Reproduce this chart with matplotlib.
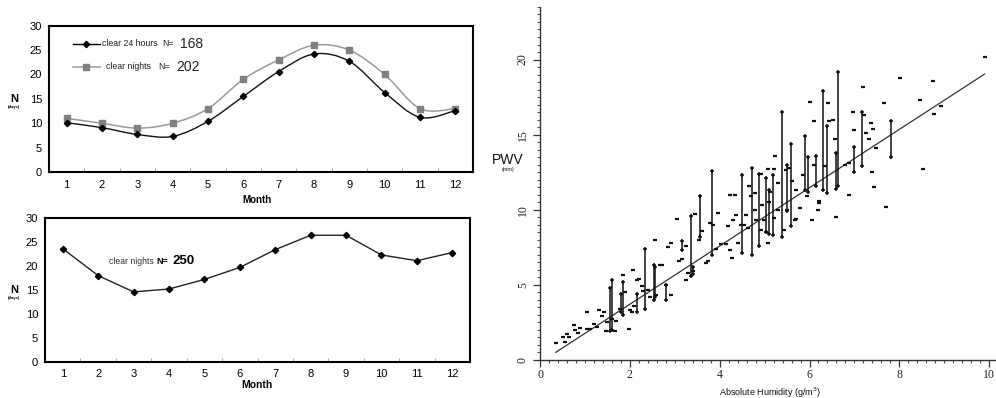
import numpy as np
import matplotlib
matplotlib.use("Agg")
import matplotlib.pyplot as plt
from matplotlib.path import Path
from matplotlib.patches import PathPatch
from matplotlib.ticker import MultipleLocator

# ---------------- data ----------------
months = list(range(1, 13))
clear24 = [10.1, 9.1, 7.7, 7.3, 10.4, 15.5, 20.6, 24.2, 22.7, 16.3, 11.2, 12.6]
clear_nights_a = [11.0, 10.0, 9.0, 10.0, 13.0, 19.0, 23.0, 26.0, 25.0, 20.0, 13.0, 13.0]
clear_nights_b = [23.6, 18.0, 14.6, 15.2, 17.2, 19.7, 23.4, 26.4, 26.4, 22.3, 21.1, 22.8]

# PWV vs absolute humidity: single measurements (x, y)
pts_x = [0.36, 0.52, 0.55, 0.60, 0.64, 0.75, 0.78, 0.85, 0.90, 1.05, 1.05, 1.11, 1.20, 1.26,
         1.32, 1.37, 1.42, 1.47, 1.48, 1.66, 1.70, 1.85, 1.98, 2.00, 2.07, 2.10, 2.15, 2.20,
         2.26, 2.41, 2.45, 2.55, 2.59, 2.67, 2.72, 2.85, 2.92, 2.92, 3.04, 3.10, 3.17, 3.26,
         3.30, 3.41, 3.44, 3.55, 3.60, 3.69, 3.74, 3.78, 3.85, 3.96, 4.04, 4.15, 4.19, 4.22,
         4.33, 4.22, 4.28, 4.41, 4.48, 4.30, 4.37, 4.59, 4.63, 4.65, 4.78, 4.81, 4.92, 4.99,
         5.04, 5.07, 5.22, 5.30, 5.44, 5.50, 5.67, 5.78, 6.06, 6.19, 6.21, 6.60, 7.70, 4.70,
         4.78, 4.92, 5.07, 5.24, 5.22, 5.48, 5.55, 5.69, 5.70, 5.94, 6.00, 6.09, 6.21, 6.41,
         6.44, 6.52, 6.56, 6.78, 6.89, 6.87, 6.96, 7.00, 7.18, 7.22, 7.26, 7.36, 7.33, 7.39,
         7.43, 7.42, 7.48, 7.65, 8.02, 8.46, 8.53, 8.74, 8.78, 8.93, 9.90, 4.95, 5.12, 5.30,
         5.10, 4.55, 5.85, 6.10, 6.35, 5.60, 3.92, 3.25, 2.80, 1.90, 1.60, 1.78, 2.30, 2.05]
pts_y = [1.10, 1.55, 1.20, 1.75, 1.55, 2.30, 2.00, 1.80, 2.10, 2.05, 3.20, 2.05, 2.40, 2.20,
         3.30, 2.90, 3.20, 1.90, 2.50, 1.90, 2.60, 5.65, 2.05, 3.35, 6.00, 3.60, 5.35, 5.40,
         4.90, 4.65, 4.20, 8.00, 4.30, 6.35, 6.30, 7.55, 7.80, 4.30, 9.40, 6.60, 6.70, 5.30,
         5.80, 5.90, 9.70, 8.00, 8.60, 6.45, 6.60, 9.10, 9.00, 9.80, 7.70, 7.70, 8.90, 11.00,
         11.00, 7.30, 6.80, 7.80, 9.00, 9.35, 9.65, 9.65, 8.80, 11.60, 10.00, 9.30, 8.65, 9.35,
         8.55, 7.80, 9.45, 10.00, 8.65, 10.00, 9.35, 10.10, 9.35, 10.00, 10.45, 9.55, 10.20, 10.90,
         11.10, 12.40, 12.70, 13.55, 12.70, 12.65, 12.80, 11.30, 9.40, 10.90, 17.20, 15.90, 10.60, 17.10,
         15.90, 16.00, 14.70, 13.00, 13.10, 10.95, 16.50, 15.30, 18.15, 16.30, 15.10, 15.80, 14.70, 12.50,
         11.50, 15.40, 14.10, 17.10, 18.80, 17.30, 12.70, 18.60, 16.40, 16.90, 20.20, 10.30, 11.20, 11.80,
         10.50, 9.00, 12.30, 13.00, 12.90, 11.90, 7.40, 7.60, 5.00, 4.50, 2.70, 3.40, 4.60, 3.20]

# repeated measurements on the same day: vertical ranges (x, ymin, ymax)
bar_x = [1.56, 1.60, 1.85, 1.80, 2.15, 2.34, 2.53, 2.57, 2.81, 3.15, 3.37, 3.40, 3.57, 3.83,
         4.50, 4.73, 4.87, 5.04, 5.10, 5.19, 5.39, 5.49, 5.59, 5.91, 5.96, 6.15, 6.29, 6.39,
         6.58, 6.63, 6.98, 7.16, 7.81]
bar_lo = [1.9, 2.0, 3.0, 3.2, 3.2, 3.4, 4.0, 4.2, 4.0, 7.3, 5.6, 5.7, 8.2, 7.0,
          7.1, 7.0, 7.6, 8.5, 8.4, 8.3, 8.2, 9.9, 8.9, 11.3, 11.2, 11.6, 11.3, 11.1,
          11.4, 11.6, 12.5, 12.9, 13.5]
bar_hi = [4.8, 5.3, 5.2, 4.4, 4.4, 7.4, 6.3, 6.2, 5.0, 7.9, 9.6, 6.2, 10.9, 12.6,
          12.3, 12.8, 12.4, 12.1, 11.3, 12.3, 16.5, 13.0, 14.4, 14.9, 13.5, 13.6, 17.9, 15.6,
          13.8, 19.2, 14.2, 16.5, 15.9]

fit_slope = 1.94
fit_intercept = -0.17
fit_xrange = [0.35, 9.9]

# ---------------- figure ----------------
plt.rcParams['font.family'] = ['Liberation Sans', 'DejaVu Sans']
fig = plt.figure(figsize=(9.96, 3.98), dpi=100)


def smooth_path(xs, ys):
    P = np.column_stack([xs, ys]).astype(float)
    verts = [P[0]]
    codes = [Path.MOVETO]
    n = len(P)
    for i in range(n - 1):
        p0 = P[i - 1] if i > 0 else P[i]
        p1 = P[i]
        p2 = P[i + 1]
        p3 = P[i + 2] if i + 2 < n else P[i + 1]
        c1 = p1 + (p2 - p0) / 6.0
        c2 = p2 - (p3 - p1) / 6.0
        verts += [c1, c2, p2]
        codes += [Path.CURVE4] * 3
    return Path(verts, codes)


def style_left(ax, xpad):
    ax.set_xlim(0.5, 12.5)
    ax.set_ylim(0, 30)
    ax.set_yticks(range(0, 31, 5))
    ax.set_xticks(months)
    ax.set_xticks([m + 0.5 for m in months[:-1]], minor=True)
    ax.tick_params(axis='x', which='major', length=0, pad=xpad, labelsize=8)
    ax.tick_params(axis='x', which='minor', length=3, direction='in', color='#999999')
    ax.tick_params(axis='y', length=0, pad=5, labelsize=8)
    for s in ax.spines.values():
        s.set_linewidth(1.5)
        s.set_color('black')


# top-left
ax1 = fig.add_axes([0.0492, 0.5678, 0.4257, 0.3676])
style_left(ax1, 6)
ax1.add_patch(PathPatch(smooth_path(months, clear_nights_a), fill=False,
                        edgecolor='#9a9a9a', lw=1.1))
ax1.add_patch(PathPatch(smooth_path(months, clear24), fill=False,
                        edgecolor='#111111', lw=1.0))
ax1.plot(months, clear_nights_a, ls='none', marker='s', ms=4, color='#808080')
ax1.plot(months, clear24, ls='none', marker='D', ms=3.2, color='black')

# legend (manual)
ax1.plot([0.057, 0.12], [0.875, 0.875], color='black', lw=1, transform=ax1.transAxes)
ax1.plot([0.088], [0.875], marker='D', ms=3.2, color='black', transform=ax1.transAxes)
ax1.plot([0.057, 0.12], [0.718, 0.718], color='#9a9a9a', lw=1.1, transform=ax1.transAxes)
ax1.plot([0.088], [0.718], marker='s', ms=4, color='#808080', transform=ax1.transAxes)
ax1.text(0.125, 0.875, 'clear 24 hours', fontsize=6.3, va='center', transform=ax1.transAxes, color='#222222')
ax1.text(0.268, 0.875, 'N=', fontsize=6.3, va='center', transform=ax1.transAxes, color='#222222')
ax1.text(0.309, 0.875, '168', fontsize=10, va='center', transform=ax1.transAxes, color='#222222')
ax1.text(0.134, 0.718, 'clear nights', fontsize=6.3, va='center', transform=ax1.transAxes, color='#222222')
ax1.text(0.258, 0.718, 'N=', fontsize=6.3, va='center', transform=ax1.transAxes, color='#222222')
ax1.text(0.300, 0.718, '202', fontsize=10, va='center', transform=ax1.transAxes, color='#222222')

# bottom-left
ax2 = fig.add_axes([0.0452, 0.0905, 0.4267, 0.3618])
style_left(ax2, 5)
ax2.plot(months, clear_nights_b, color='#222222', lw=1.0, marker='D', ms=3.2,
         markerfacecolor='black', markeredgecolor='black')
ax2.text(0.151, 0.70, 'clear nights', fontsize=6.2, va='center', transform=ax2.transAxes, color='#333333')
ax2.text(0.262, 0.70, 'N=', fontsize=6.5, va='center', fontweight='bold', transform=ax2.transAxes)
ax2.text(0.300, 0.70, '250', fontsize=9.5, va='center', fontweight='bold', transform=ax2.transAxes)

# y labels and x labels for the left panels
for ymain, ysub in [(0.751, 0.731), (0.271, 0.251)]:
    fig.text(0.014, ymain, 'N', fontsize=8, fontweight='bold', ha='center', va='center')
    fig.text(0.014, ysub, '(days)', fontsize=3, fontweight='bold', ha='center', va='center')
fig.text(0.258, 0.497, 'Month', fontsize=7, fontweight='bold', ha='center', va='center')
fig.text(0.258, 0.033, 'Month', fontsize=7.5, fontweight='bold', ha='center', va='center')

# right panel
ax3 = fig.add_axes([0.5422, 0.0955, 0.4568, 0.887])
ax3.set_xlim(0, 10.13)
ax3.set_ylim(0, 23.5)
for s in ['top', 'right']:
    ax3.spines[s].set_visible(False)
for s in ['left', 'bottom']:
    ax3.spines[s].set_linewidth(1.0)
    ax3.spines[s].set_color('#333333')
ax3.set_xticks([0, 2, 4, 6, 8, 10])
ax3.xaxis.set_minor_locator(MultipleLocator(0.2))
ax3.set_yticks([0, 5, 10, 15, 20])
ax3.yaxis.set_minor_locator(MultipleLocator(0.5))
ax3.tick_params(axis='both', which='major', length=5, width=0.9, color='#333333')
ax3.tick_params(axis='both', which='minor', length=2.5, width=0.8, color='#555555')
ax3.tick_params(axis='x', which='major', pad=1.5)
ax3.tick_params(axis='y', which='major', pad=3)
for lab in ax3.get_xticklabels():
    lab.set_fontfamily(['Liberation Serif', 'DejaVu Serif'])
    lab.set_fontsize(8.5)
    lab.set_color('#222222')
for lab in ax3.get_yticklabels():
    lab.set_fontfamily(['Liberation Serif', 'DejaVu Serif'])
    lab.set_fontsize(8.5)
    lab.set_rotation(90)
    lab.set_va('center')
    lab.set_color('#222222')

# regression line
fx = np.array(fit_xrange)
ax3.plot(fx, fit_slope * fx + fit_intercept, color='#333333', lw=0.9)

# ranges
ax3.vlines(bar_x, bar_lo, bar_hi, color='#111111', lw=1.1)
ax3.plot(bar_x, bar_lo, ls='none', marker='+', ms=3.5, mew=1.1, color='#111111')
ax3.plot(bar_x, bar_hi, ls='none', marker='+', ms=3.5, mew=1.1, color='#111111')
# single points
ax3.plot(pts_x, pts_y, ls='none', marker='_', ms=3.2, mew=1.6, color='#111111')

fig.text(0.51, 0.598, 'PWV', fontsize=10, ha='center', va='center', color='#111111')
fig.text(0.51, 0.573, '(mm)', fontsize=4, ha='center', va='center', color='#111111')
fig.text(0.773, 0.014, 'Absolute Humidity (g/m$^3$)', fontsize=6.5, ha='center', va='center', color='#111111')

fig.savefig('out.png', dpi=100)
